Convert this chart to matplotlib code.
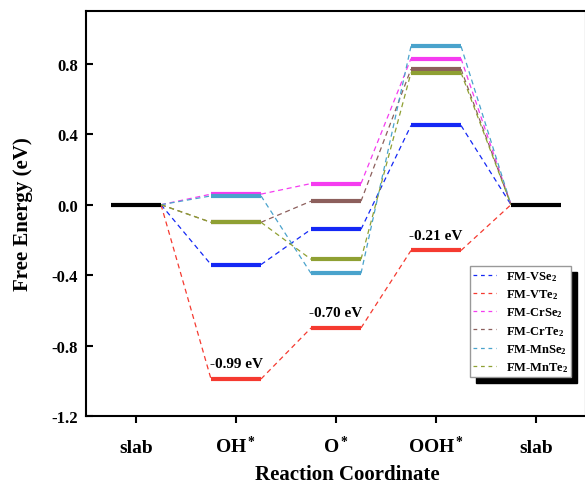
import matplotlib
matplotlib.use('Agg')
import matplotlib.pyplot as plt

plt.rcParams['font.family'] = ['Liberation Serif', 'DejaVu Serif']
plt.rcParams['font.weight'] = 'bold'
plt.rcParams['mathtext.fontset'] = 'custom'
plt.rcParams['mathtext.rm'] = 'Liberation Serif:bold'
plt.rcParams['mathtext.it'] = 'Liberation Serif:bold'
plt.rcParams['mathtext.bf'] = 'Liberation Serif:bold'
plt.rcParams['axes.unicode_minus'] = False

# Данi
steps = ['slab', 'OH$^*$', 'O$^*$', 'OOH$^*$', 'slab']
names = ['FM-VSe$_2$', 'FM-VTe$_2$', 'FM-CrSe$_2$',
         'FM-CrTe$_2$', 'FM-MnSe$_2$', 'FM-MnTe$_2$']
colors = ['#1428f5', '#f53a30', '#f53cf0', '#8c5f5c', '#4aa3cc', '#8fa033']
slab_start = [0.0] * 6
oh_vals = [-0.34, -0.99, 0.06, -0.10, 0.05, -0.10]
o_vals = [-0.14, -0.70, 0.12, 0.02, -0.39, -0.31]
ooh_vals = [0.45, -0.26, 0.83, 0.77, 0.90, 0.75]
slab_end = [0.0] * 6
marked = ['-0.99 eV', '-0.70 eV', '-0.21 eV']

yticks = [-1.2, -0.8, -0.4, 0.0, 0.4, 0.8]

half = 0.25
dash = (0, (4, 3))

fig = plt.figure(figsize=(5.85, 4.85), dpi=100)
ax = fig.add_axes([86 / 585, 68 / 485, 500 / 585, 405 / 485])

pos = [1, 2, 3, 4, 5]

# Рiвнi slab
ax.plot([pos[0] - half, pos[0] + half], [0, 0], color='black', lw=3, solid_capstyle='butt', zorder=3)
ax.plot([pos[4] - half, pos[4] + half], [0, 0], color='black', lw=3, solid_capstyle='butt', zorder=3)

for i in range(6):
    levels = [slab_start[i], oh_vals[i], o_vals[i], ooh_vals[i], slab_end[i]]
    c = colors[i]
    # з'єднання
    for k in range(4):
        ax.plot([pos[k] + half, pos[k + 1] - half], [levels[k], levels[k + 1]],
                color=c, lw=0.9, linestyle=dash, zorder=2)
    # рiвнi
    for k in range(1, 4):
        ax.plot([pos[k] - half, pos[k] + half], [levels[k], levels[k]],
                color=c, lw=3, solid_capstyle='butt', zorder=3)
    ax.plot([], [], color=c, lw=0.9, linestyle=(0, (3, 3)), label=names[i])

# Пiдписи для VTe2
red_levels = [oh_vals[1], o_vals[1], ooh_vals[1]]
for k in range(3):
    ax.text(pos[k + 1], red_levels[k] + 0.05, marked[k], ha='center', va='bottom',
            fontsize=11, fontweight='bold')

ax.set_xlim(0.5, 5.5)
ax.set_ylim(-1.2, 1.1)
ax.set_xticks(pos)
ax.set_xticklabels(steps, fontsize=14, fontweight='bold')
for t in ax.get_xticklabels():
    t.set_verticalalignment('baseline')
ax.set_yticks(yticks)
ax.set_yticklabels([f'{v:.1f}' for v in yticks], fontsize=12, fontweight='bold')
ax.tick_params(axis='y', direction='in', length=5, width=1.5, pad=6)
ax.tick_params(axis='x', direction='out', length=5, width=1.5, pad=21)
for s in ax.spines.values():
    s.set_linewidth(1.5)

ax.set_xlabel('Reaction Coordinate', fontsize=15, fontweight='bold')
ax.xaxis.set_label_coords(0.522, -0.118)
ax.set_ylabel('Free Energy (eV)', fontsize=15, fontweight='bold', labelpad=13)

leg = ax.legend(loc='lower right', bbox_to_anchor=(0.97, 0.096), borderaxespad=0,
                fontsize=9, fancybox=False, edgecolor='#999999', framealpha=1,
                handlelength=1.8, handletextpad=0.8, borderpad=0.25, labelspacing=0.35,
                shadow={'ox': 4.5, 'oy': -4.5, 'color': 'black', 'alpha': 1})
leg.get_frame().set_linewidth(1.0)

fig.savefig('out.png', dpi=100)
